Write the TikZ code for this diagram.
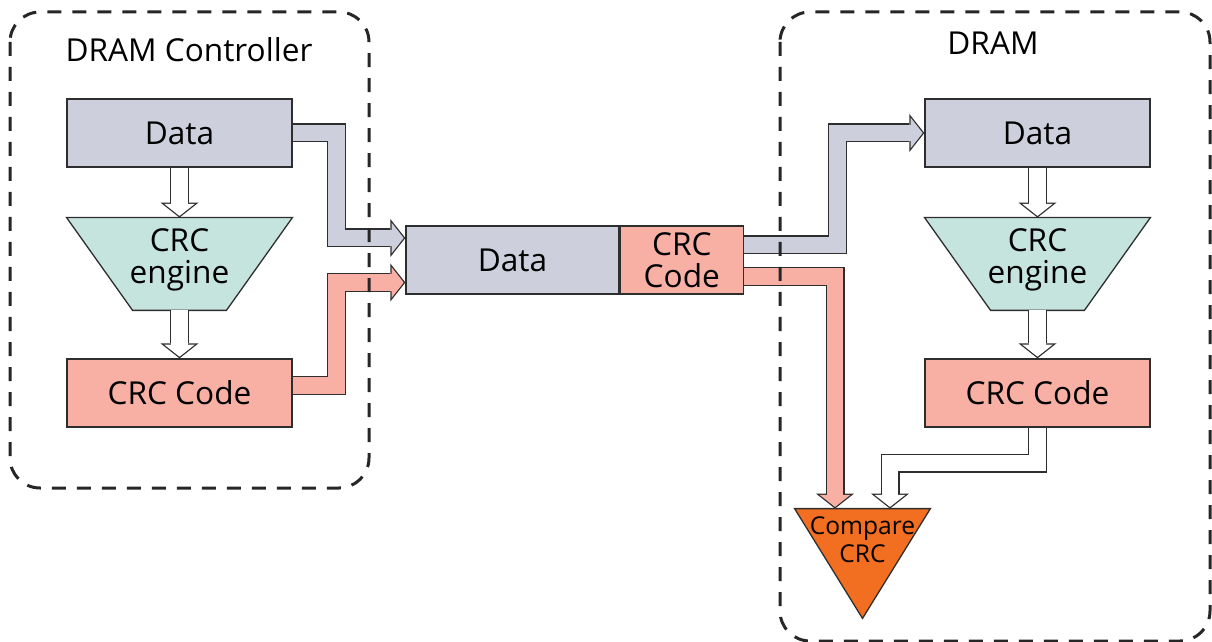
\documentclass[tikz,border=0pt]{standalone}
\usepackage{fontspec}
\setmainfont{Open Sans}
\usepackage{xcolor}
\usetikzlibrary{arrows.meta, calc, positioning}

\definecolor{datagray}{HTML}{CDD0DC}
\definecolor{codepink}{HTML}{F8B0A5}
\definecolor{enginegreen}{HTML}{C6E4DE}
\definecolor{cmporange}{HTML}{F26F21}
\definecolor{edgegray}{HTML}{2E2E2E}

% broad block arrow: dark outline first, colour on top
\newcommand{\pipearrow}[2]{%
  \draw[pipeouter] #2;
  \draw[pipeinner=#1] #2;
}

\begin{document}
\begin{tikzpicture}[x=0.5pt, y=-0.5pt,
    box/.style={draw=edgegray, line width=0.65pt, inner sep=0pt,
        minimum width=112.5pt, minimum height=34pt, align=center,
        font=\fontsize{15.8}{16}\selectfont},
    ghost/.style={inner sep=0pt},
    lbl/.style={align=center, font=\fontsize{15.8}{16}\selectfont},
    pipeouter/.style={draw=edgegray, line width=9.5pt,
        -{Triangle[length=7.5pt, width=19pt, line width=0pt]}},
    pipeinner/.style={draw=#1, line width=8.2pt, shorten >=0.83pt,
        -{Triangle[length=6pt, width=15.25pt, line width=0pt]}},
    frame/.style={draw=black!85, line width=1.5pt, dash pattern=on 7pt off 5.5pt,
        rounded corners=15pt}]

\useasboundingbox (0,0) rectangle (1212,642);

% DRAM controller side
\node[box, fill=datagray] (ldata) at (179.5,133) {Data};
\node[ghost, minimum width=112.5pt, minimum height=46pt] (leng) at (179.5,264) {};
\filldraw[fill=enginegreen, draw=edgegray, line width=0.65pt]
    (leng.north west) -- (leng.north east) -- ($(leng.south east)+(-66,0)$)
    -- ($(leng.south west)+(66,0)$) -- cycle;
\node[lbl] (lenglbl) at (179.5,260) {CRC\\engine};
\node[box, fill=codepink] (lcode) at (179.5,393) {CRC Code};

% Transfer
\node[box, fill=datagray, minimum width=106.5pt] (mdata) at (512.5,260) {Data};
\node[box, fill=codepink, minimum width=61.5pt, right=0pt of mdata] (mcode) {CRC\\Code};

% DRAM side
\node[box, fill=datagray] (rdata) at (1037.5,133) {Data};
\node[ghost, minimum width=112.5pt, minimum height=46pt] (reng) at (1037.5,264) {};
\filldraw[fill=enginegreen, draw=edgegray, line width=0.65pt]
    (reng.north west) -- (reng.north east) -- ($(reng.south east)+(-66,0)$)
    -- ($(reng.south west)+(66,0)$) -- cycle;
\node[lbl] (renglbl) at (1037.5,260) {CRC\\engine};
\node[box, fill=codepink] (rcode) at (1037.5,393) {CRC Code};

\node[ghost, minimum width=67.5pt, minimum height=54.5pt] (cmp) at (862.5,563.5) {};
\filldraw[fill=cmporange, draw=edgegray, line width=0.65pt]
    (cmp.north west) -- (cmp.north east) -- (cmp.south) -- cycle;
\node[align=center, font=\fontsize{12.3}{14}\selectfont] (cmplbl) at (862.5,540) {Compare\\CRC};

% Arrows
\pipearrow{white}{(ldata.south) -- (leng.north)}
\pipearrow{white}{(leng.south) -- (lcode.north)}
\pipearrow{datagray}{(ldata.east) -- ++(44,0) |- ($(mdata.west)+(0,-22)$)}
\pipearrow{codepink}{($(lcode.east)+(0,-7.5)$) -- ++(44,0) |- ($(mdata.west)+(0,22.5)$)}
\pipearrow{datagray}{($(mcode.east)+(0,-15)$) -- ++(93.5,0) |- (rdata.west)}
\pipearrow{codepink}{($(mcode.east)+(0,16.5)$) -| ($(cmp.north)+(-27.5,0)$)}
\pipearrow{white}{(rdata.south) -- (reng.north)}
\pipearrow{white}{(reng.south) -- (rcode.north)}
\pipearrow{white}{(rcode.south) -- ++(0,35.5) -| ($(cmp.north)+(27.5,0)$)}

% Frames
\draw[frame] (10,12) rectangle (369,488);
\draw[frame] (780,12) rectangle (1210,641);
\node[lbl] (ctrltitle) at (189,50) {DRAM Controller};
\node[lbl] (dramtitle) at (993,43) {DRAM};

\end{tikzpicture}
\end{document}
